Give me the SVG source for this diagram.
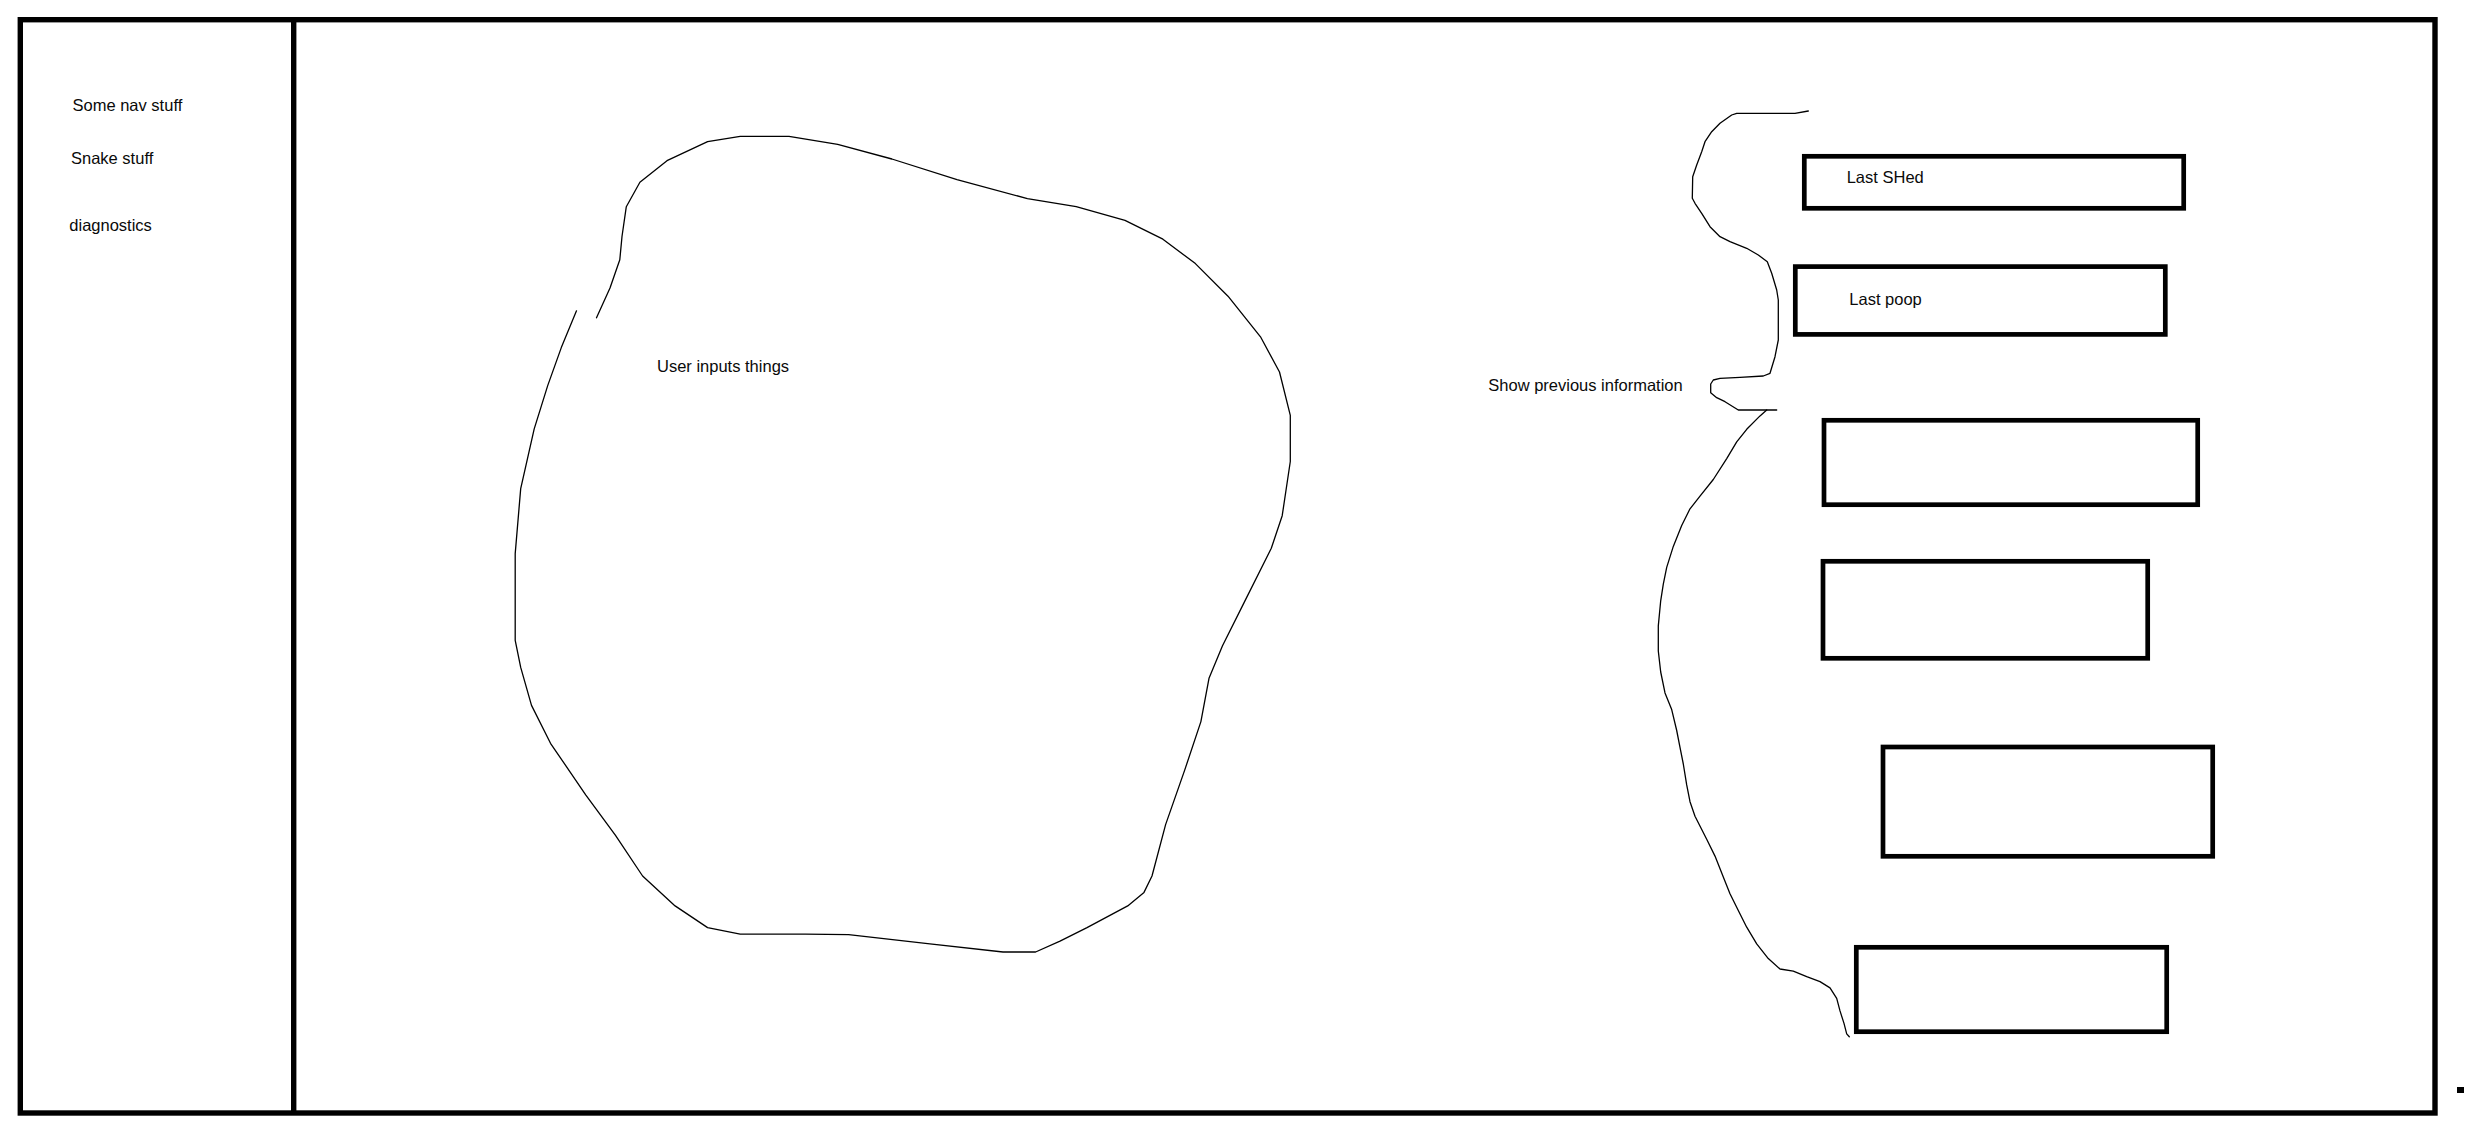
<svg xmlns="http://www.w3.org/2000/svg" width="2470" height="1136" viewBox="0 0 2470 1136">
<style>
.frame{fill:none;stroke:#000;stroke-width:5.4}
.box{fill:none;stroke:#000;stroke-width:4.7}
.sketch{fill:none;stroke:#000;stroke-width:1.3;stroke-linejoin:round;stroke-linecap:round}
.lbl{font-family:"Liberation Sans",Arial,sans-serif;font-size:16.5px;fill:#0a0a0a}
</style>
<rect width="2470" height="1136" fill="#fff"/>
<g id="window">
<rect class="frame" x="20.3" y="19.7" width="2414.7" height="1093.3"/>
</g>
<g id="sidebar">
<line class="frame" x1="293.7" y1="19.7" x2="293.7" y2="1113"/>
<text class="lbl" x="72.5" y="110.7">Some nav stuff</text>
<text class="lbl" x="71" y="164">Snake stuff</text>
<text class="lbl" x="69.3" y="230.7">diagnostics</text>
</g>
<g id="user-input-area">
<path class="sketch" d="M596.5,317.8 L610,288 L619.8,259.8 L622,236.5 L626.3,206.7 L639.9,182.3 L667,160.7 L707.6,141.7 L740.2,136.3 L789,136.3 L837.7,144.4 L891.9,159 L957,179.6 L1027.4,198.6 L1076.2,206.7 L1125,220.3 L1162.9,239.2 L1195.4,263.6 L1228,296.2 L1260.5,336.8 L1279.5,372 L1290.3,415.4 L1290.3,461.5 L1282.2,515.7 L1271.3,548.2 L1244.2,602.4 L1222.5,645.7 L1209,678.3 L1200.9,721.6 L1184.6,770.4 L1165.6,824.6 L1152,876 L1144,892.4 L1127.7,905.9 L1087,927.6 L1060,941.1 L1035.6,952 L1003,952 L929.9,943.9 L848.6,934.6 L805.2,934.1 L740.2,934.1 L707.6,927.6 L675.1,905.9 L642.6,876 L615.5,835.4 L585.7,794.8 L550.5,743.3 L531.5,705.4 L520.7,667.4 L515.2,640.3 L515.2,553.6 L520.7,488.6 L534.2,428.9 L547.7,385.6 L561.3,347.6 L576.5,310.8"/>
<text class="lbl" x="657" y="372">User inputs things</text>
</g>
<g id="previous-info">
<path class="sketch" d="M1808.3,111 L1795,113.3 L1736.7,113.3 L1731.7,115 L1720,123.3 L1711.7,131.7 L1705,141.7 L1701.7,151.7 L1696.7,165 L1692.7,176.7 L1692.3,198.3 L1695,203.3 L1701.7,213.3 L1710,226.7 L1720,236.7 L1730,241.7 L1746.7,248.3 L1758.3,255 L1767.3,261.7 L1771.7,273.3 L1776.7,290 L1778.3,300 L1778.3,340 L1775,356.7 L1770,373.3 L1763.3,376 L1740,377.3 L1720,378.3 L1713.3,380 L1710.7,384 L1710.7,392.7 L1716.7,397.7 L1725,401.7 L1738.3,410 L1776.7,410"/>
<path class="sketch" d="M1766.7,410 L1760,415.9 L1746.7,429.3 L1736.7,441.8 L1726.7,458.6 L1713.3,479.5 L1700,496.2 L1690,508.8 L1681.7,525.5 L1673.3,546.4 L1666.7,567.4 L1663.3,584.1 L1660.7,600.8 L1658.3,625.9 L1658.3,651 L1660.7,672 L1665,692.9 L1671.7,709.6 L1676.7,730.5 L1680,747.3 L1683.3,764 L1686.7,784.9 L1690,801.7 L1695,816.3 L1706.7,839.3 L1715,856.1 L1723.3,877 L1730,893.7 L1738.3,910.5 L1746.7,927.2 L1756.7,943.9 L1768.3,958.6 L1780,969 L1793.3,971.1 L1806.7,976.6 L1820,981.6 L1830,987.9 L1836.7,998.3 L1840,1010.9 L1844,1023.4 L1846.7,1033.9 L1849.3,1036.8"/>
<text class="lbl" x="1488.3" y="390.7">Show previous information</text>
</g>
<g id="box-last-shed">
<rect class="box" x="1804.3" y="156.3" width="379.4" height="52"/>
<text class="lbl" x="1846.7" y="183.3">Last SHed</text>
</g>
<g id="box-last-poop">
<rect class="box" x="1795.3" y="266.6" width="370" height="67.8"/>
<text class="lbl" x="1849.3" y="305">Last poop</text>
</g>
<g id="box-3"><rect class="box" x="1824" y="420.3" width="373.7" height="84.4"/></g>
<g id="box-4"><rect class="box" x="1823" y="561.3" width="324.7" height="97"/></g>
<g id="box-5"><rect class="box" x="1883" y="747" width="329.7" height="109.3"/></g>
<g id="box-6"><rect class="box" x="1856.3" y="947.3" width="310.4" height="84.4"/></g>
<g id="connectors"></g>
<rect x="2457" y="1087" width="7" height="6" fill="#000"/>
</svg>
